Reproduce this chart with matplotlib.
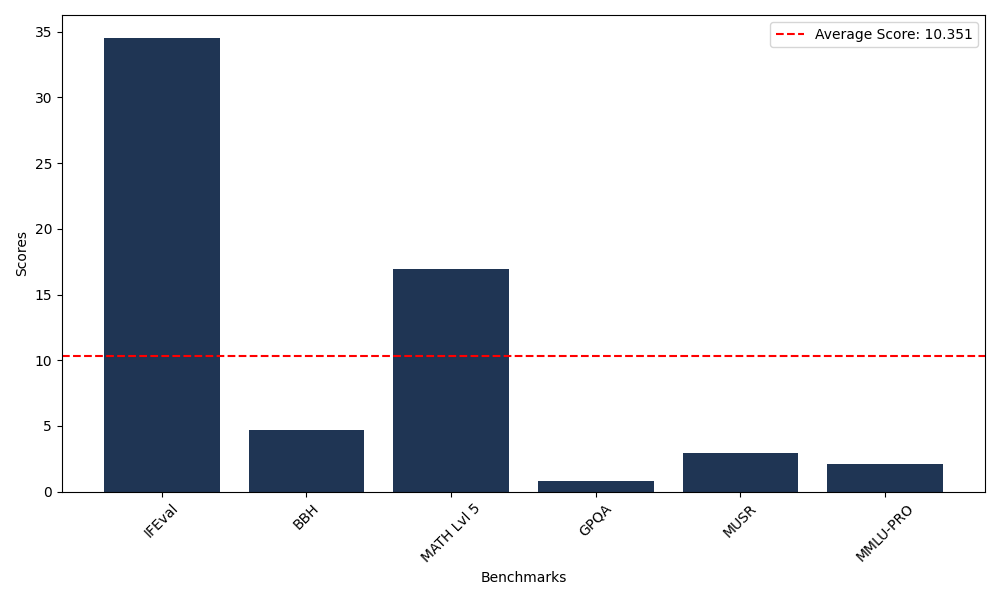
import matplotlib
matplotlib.use("Agg")
import matplotlib.pyplot as plt
import numpy as np

# benchmark scores
benchmarks = ["IFEval", "BBH", "MATH Lvl 5", "GPQA", "MUSR", "MMLU-PRO"]
scores = [34.55, 4.72, 16.92, 0.825, 2.96, 2.13]

avg_score = np.mean(scores)

fig, ax = plt.subplots(figsize=(10, 6), dpi=100)
ax.bar(benchmarks, scores, color="#1f3554")
ax.axhline(avg_score, color="red", linestyle="--", label=f"Average Score: {avg_score:.3f}")

ax.set_xlabel("Benchmarks")
ax.set_ylabel("Scores")
plt.xticks(rotation=45)
ax.legend(loc="upper right")

plt.tight_layout()
plt.savefig("out.png")
